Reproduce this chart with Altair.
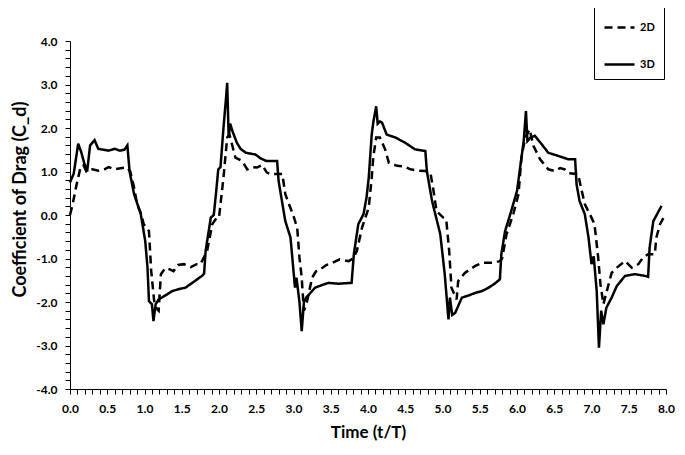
import altair as alt
import pandas as pd

# 3D (solid) series
t3 = [0.00, 0.05, 0.11, 0.15, 0.19, 0.23, 0.27, 0.33, 0.38, 0.45, 0.52, 0.60, 0.67, 0.73, 0.77,
      0.80, 0.86, 0.95, 1.01, 1.04, 1.06, 1.10, 1.12, 1.15, 1.19, 1.28, 1.37, 1.47, 1.55, 1.65,
      1.77, 1.80, 1.82, 1.89, 1.93, 1.96, 1.99, 2.02, 2.06, 2.09, 2.11, 2.13, 2.15, 2.18, 2.24,
      2.29, 2.36, 2.49, 2.56, 2.64, 2.78, 2.80, 2.89, 2.96, 3.02, 3.04, 3.08, 3.11, 3.14, 3.17,
      3.29, 3.40, 3.47, 3.60, 3.78, 3.81, 3.87, 3.94, 3.98, 4.01, 4.05, 4.07, 4.11, 4.13, 4.16,
      4.19, 4.25, 4.37, 4.50, 4.63, 4.77, 4.79, 4.86, 4.97, 5.03, 5.08, 5.10, 5.13, 5.17, 5.26,
      5.35, 5.44, 5.53, 5.62, 5.70, 5.77, 5.79, 5.84, 5.91, 6.00, 6.06, 6.09, 6.12, 6.14, 6.18,
      6.24, 6.33, 6.42, 6.55, 6.69, 6.78, 6.80, 6.84, 6.91, 6.96, 7.00, 7.03, 7.07, 7.10, 7.13,
      7.16, 7.20, 7.27, 7.34, 7.45, 7.58, 7.72, 7.76, 7.78, 7.83, 7.89, 7.94]
cd3 = [0.75, 0.95, 1.64, 1.45, 1.20, 1.00, 1.60, 1.72, 1.52, 1.50, 1.48, 1.52, 1.48, 1.50, 1.60,
       1.00, 0.48, 0.02, -0.60, -1.20, -1.98, -2.05, -2.44, -2.05, -1.94, -1.85, -1.75, -1.70, -1.67, -1.55,
       -1.40, -1.35, -0.83, -0.06, 0.00, 0.50, 1.05, 1.10, 2.00, 2.60, 3.04, 1.78, 2.10, 1.93, 1.66,
       1.52, 1.43, 1.39, 1.30, 1.24, 1.24, 0.78, -0.14, -0.52, -1.67, -1.44, -2.00, -2.67, -2.00, -1.90,
       -1.67, -1.60, -1.56, -1.58, -1.56, -0.90, -0.21, 0.02, 0.40, 0.86, 1.85, 2.12, 2.50, 2.10, 2.15,
       2.12, 1.85, 1.78, 1.66, 1.51, 1.47, 1.01, 0.32, -0.44, -1.36, -2.40, -1.90, -2.30, -2.25, -1.90,
       -1.85, -1.79, -1.75, -1.67, -1.58, -1.48, -0.90, -0.37, 0.02, 0.55, 1.32, 1.70, 2.39, 1.70, 1.78,
       1.82, 1.63, 1.43, 1.36, 1.28, 1.28, 0.70, 0.32, 0.02, -0.52, -1.13, -0.95, -1.75, -3.05, -2.20,
       -2.51, -2.13, -1.90, -1.63, -1.40, -1.36, -1.40, -1.42, -0.75, -0.14, 0.05, 0.21]

# 2D (dashed) series
t2 = [0.00, 0.03, 0.08, 0.14, 0.18, 0.22, 0.30, 0.38, 0.46, 0.52, 0.60, 0.70, 0.76, 0.81, 0.86,
      0.90, 0.95, 0.99, 1.03, 1.06, 1.09, 1.13, 1.16, 1.19, 1.22, 1.28, 1.34, 1.39, 1.45, 1.53,
      1.62, 1.70, 1.75, 1.84, 1.91, 1.97, 2.00, 2.06, 2.11, 2.14, 2.22, 2.31, 2.38, 2.45, 2.51,
      2.58, 2.64, 2.69, 2.85, 2.89, 2.95, 3.00, 3.05, 3.08, 3.11, 3.14, 3.18, 3.25, 3.30, 3.36,
      3.44, 3.52, 3.62, 3.74, 3.80, 3.85, 3.92, 4.01, 4.05, 4.07, 4.11, 4.16, 4.23, 4.28, 4.39,
      4.48, 4.57, 4.68, 4.77, 4.84, 4.88, 4.92, 5.01, 5.05, 5.09, 5.12, 5.19, 5.21, 5.30, 5.37,
      5.44, 5.53, 5.62, 5.68, 5.77, 5.80, 5.86, 5.95, 6.02, 6.06, 6.11, 6.17, 6.22, 6.31, 6.42,
      6.51, 6.58, 6.64, 6.70, 6.82, 6.87, 6.91, 7.00, 7.04, 7.09, 7.12, 7.16, 7.19, 7.23, 7.27,
      7.34, 7.45, 7.54, 7.63, 7.69, 7.76, 7.85, 7.87, 7.92, 7.98]
cd2 = [0.00, 0.20, 0.63, 1.09, 1.15, 1.00, 1.05, 1.02, 1.05, 1.10, 1.05, 1.08, 1.10, 1.00, 0.63,
       0.25, 0.05, -0.21, -0.30, -0.37, -1.29, -1.98, -2.15, -2.20, -1.36, -1.22, -1.25, -1.29, -1.15, -1.13,
       -1.20, -1.13, -1.13, -0.83, -0.21, -0.06, -0.06, 0.86, 1.78, 1.85, 1.32, 1.24, 1.05, 1.10, 1.09,
       1.15, 0.98, 0.94, 0.94, 0.48, 0.20, -0.02, -0.30, -0.98, -1.44, -2.20, -2.00, -1.44, -1.30, -1.25,
       -1.15, -1.10, -1.02, -1.06, -1.00, -0.83, -0.29, 0.17, 0.86, 1.32, 1.78, 1.78, 1.51, 1.20, 1.13,
       1.12, 1.05, 1.02, 1.01, 0.95, 0.55, 0.09, -0.06, -0.10, -0.83, -1.67, -1.94, -1.52, -1.33, -1.25,
       -1.17, -1.10, -1.10, -1.10, -1.06, -1.00, -0.44, 0.02, 0.48, 1.32, 1.78, 1.97, 1.59, 1.28, 1.05,
       1.01, 1.08, 1.05, 0.96, 0.94, 0.55, 0.25, -0.06, -0.21, -0.98, -1.59, -2.05, -1.85, -1.59, -1.33,
       -1.21, -1.06, -1.21, -1.13, -0.98, -0.90, -0.90, -0.52, -0.21, -0.02]

series_names = ["2D", "3D"]

df = pd.concat([
    pd.DataFrame({"t": t2, "cd": cd2, "series": series_names[0]}),
    pd.DataFrame({"t": t3, "cd": cd3, "series": series_names[1]}),
], ignore_index=True)

x_ticks = [round(i * 0.1, 1) for i in range(81)]
y_ticks = [round(-4 + i * 0.2, 1) for i in range(41)]

FONT = "Lato"

chart = alt.Chart(df).mark_line(color="black", strokeWidth=2.5).encode(
    x=alt.X("t:Q",
            scale=alt.Scale(domain=[0, 8], nice=False),
            axis=alt.Axis(
                title="Time (t/T)",
                values=x_ticks,
                labelExpr="abs(datum.value*2 - round(datum.value*2)) < 0.001 ? format(datum.value, '.1f') : ''",
                grid=False, labelOverlap=False, labelFlush=False,
                tickSize=5, tickColor="black", domainColor="black",
                labelFont=FONT, labelFontWeight="bold", labelFontSize=12, labelColor="black",
                labelPadding=9,
                titleFont=FONT, titleFontWeight="bold", titleFontSize=17, titleColor="black",
                titleY=43, titleBaseline="middle",
            )),
    y=alt.Y("cd:Q",
            scale=alt.Scale(domain=[-4, 4], nice=False),
            axis=alt.Axis(
                title="Coefficient of Drag (C_d)",
                values=y_ticks,
                labelExpr="abs(datum.value - round(datum.value)) < 0.001 ? replace(format(datum.value, '.1f'), '\u2212', '-') : ''",
                grid=False, labelOverlap=False, labelFlush=False,
                tickSize=5, tickColor="black", domainColor="black",
                labelFont=FONT, labelFontWeight="bold", labelFontSize=12, labelColor="black",
                labelPadding=8,
                titleFont=FONT, titleFontWeight="bold", titleFontSize=18, titleColor="black",
                titleX=-50, titleY=158, titleBaseline="middle", titleAngle=270,
            )),
    strokeDash=alt.StrokeDash("series:N",
                              scale=alt.Scale(domain=series_names, range=[[8, 5], [1, 0]]),
                              legend=alt.Legend(
                                  title=None, orient="none", legendX=524, legendY=-39,
                                  strokeColor="black", padding=9,
                                  symbolType="stroke", symbolSize=900, symbolStrokeWidth=2.5,
                                  symbolStrokeColor="black", rowPadding=15,
                                  labelFont=FONT, labelFontWeight="bold", labelFontSize=11,
                                  labelColor="black", labelOffset=4,
                              )),
    detail="series:N",
).properties(
    width=596, height=348,
    padding={"left": 62, "top": 33, "right": 10, "bottom": 56},
    autosize="none",
).configure_view(stroke=None)

chart.save("out.html", embed_options={"renderer": "svg", "actions": False})
